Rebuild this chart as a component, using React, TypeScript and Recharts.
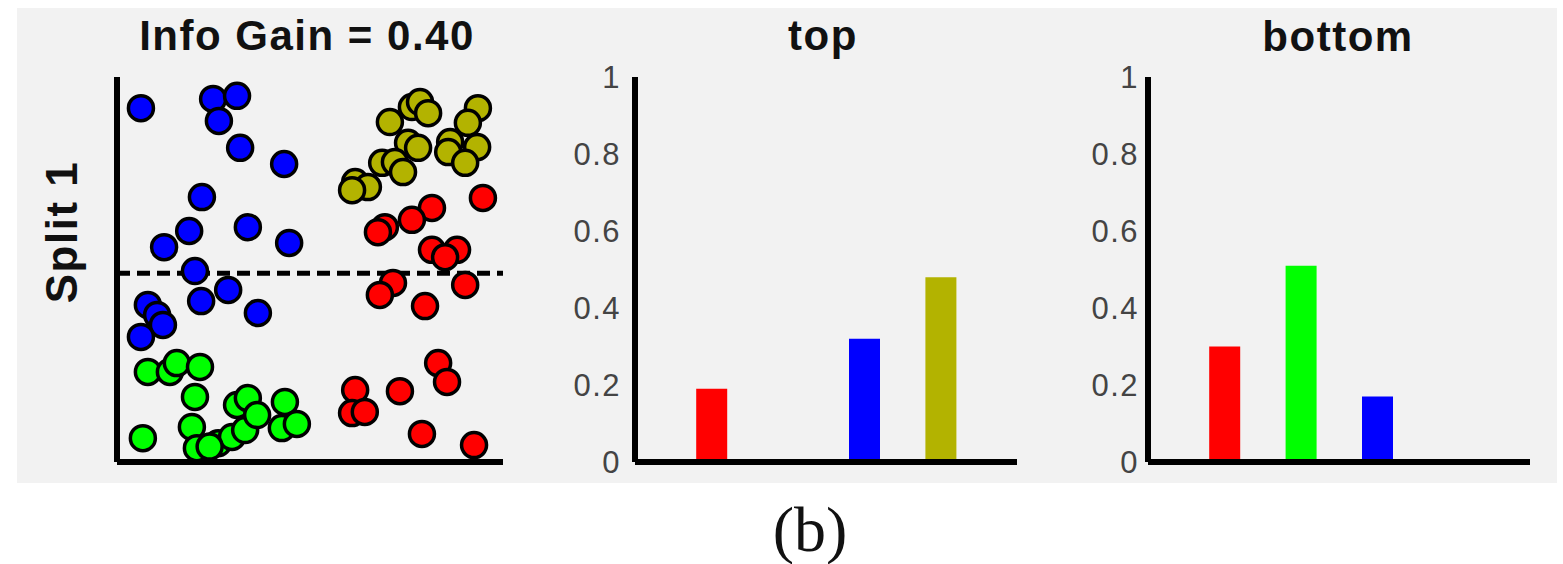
import React from "react";
import { ScatterChart, Scatter, XAxis, YAxis, ReferenceLine, BarChart, Bar, Cell } from "recharts";

// scatter points per class (plot units 0..1)
const bluePts = [
  { x: 0.062, y: 0.919 }, { x: 0.249, y: 0.943 }, { x: 0.311, y: 0.951 }, { x: 0.264, y: 0.886 },
  { x: 0.319, y: 0.816 }, { x: 0.433, y: 0.774 }, { x: 0.22, y: 0.688 }, { x: 0.187, y: 0.6 },
  { x: 0.122, y: 0.558 }, { x: 0.339, y: 0.61 }, { x: 0.446, y: 0.569 }, { x: 0.202, y: 0.496 },
  { x: 0.288, y: 0.447 }, { x: 0.218, y: 0.418 }, { x: 0.365, y: 0.387 }, { x: 0.08, y: 0.408 },
  { x: 0.104, y: 0.382 }, { x: 0.119, y: 0.356 }, { x: 0.062, y: 0.325 },
];

const greenPts = [
  { x: 0.08, y: 0.234 }, { x: 0.137, y: 0.234 }, { x: 0.155, y: 0.257 }, { x: 0.215, y: 0.247 },
  { x: 0.202, y: 0.169 }, { x: 0.067, y: 0.062 }, { x: 0.194, y: 0.091 }, { x: 0.207, y: 0.036 },
  { x: 0.262, y: 0.049 }, { x: 0.298, y: 0.065 }, { x: 0.332, y: 0.083 }, { x: 0.311, y: 0.148 },
  { x: 0.339, y: 0.166 }, { x: 0.363, y: 0.122 }, { x: 0.435, y: 0.156 }, { x: 0.427, y: 0.088 },
  { x: 0.466, y: 0.099 }, { x: 0.24, y: 0.04 },
];

const yellowPts = [
  { x: 0.707, y: 0.883 }, { x: 0.764, y: 0.922 }, { x: 0.785, y: 0.935 }, { x: 0.806, y: 0.906 },
  { x: 0.935, y: 0.919 }, { x: 0.909, y: 0.881 }, { x: 0.933, y: 0.818 }, { x: 0.863, y: 0.831 },
  { x: 0.858, y: 0.805 }, { x: 0.902, y: 0.777 }, { x: 0.754, y: 0.829 }, { x: 0.78, y: 0.816 },
  { x: 0.687, y: 0.777 }, { x: 0.72, y: 0.779 }, { x: 0.741, y: 0.753 }, { x: 0.617, y: 0.727 },
  { x: 0.65, y: 0.714 }, { x: 0.609, y: 0.706 },
];

const redPts = [
  { x: 0.948, y: 0.686 }, { x: 0.816, y: 0.66 }, { x: 0.764, y: 0.629 }, { x: 0.694, y: 0.61 },
  { x: 0.676, y: 0.597 }, { x: 0.816, y: 0.551 }, { x: 0.881, y: 0.551 }, { x: 0.85, y: 0.532 },
  { x: 0.715, y: 0.465 }, { x: 0.681, y: 0.434 }, { x: 0.902, y: 0.46 }, { x: 0.798, y: 0.405 },
  { x: 0.832, y: 0.257 }, { x: 0.855, y: 0.208 }, { x: 0.617, y: 0.187 }, { x: 0.733, y: 0.184 },
  { x: 0.609, y: 0.127 }, { x: 0.642, y: 0.13 }, { x: 0.79, y: 0.073 }, { x: 0.925, y: 0.044 },
];

const splitY = 0.49;

// class histograms for each side of the split
const classColors = ["#ff0000", "#00ff00", "#0000ff", "#b3b300"];
const classPos = [1, 2, 3, 4];
const topValues = [0.19, 0, 0.32, 0.48];
const bottomValues = [0.3, 0.51, 0.17, 0];
const yTicks = [0, 0.2, 0.4, 0.6, 0.8, 1];

const topData = classPos.map((pos, i) => ({ pos, value: topValues[i] }));
const bottomData = classPos.map((pos, i) => ({ pos, value: bottomValues[i] }));

const FONT = "'Liberation Sans', Arial, sans-serif";
const AXIS = { stroke: "#000", strokeWidth: 6 };

const dot = (fill: string) => (p: any) => (
  <circle cx={p.cx} cy={p.cy} r={12.5} fill={fill} stroke="#000" strokeWidth={3.5} />
);

function Histogram({ data, width, yWidth, right, tickMargin }: any) {
  return (
    <BarChart width={width} height={490} data={data} margin={{ top: 77, right, bottom: 26, left: 0 }}>
      <XAxis type="number" dataKey="pos" domain={[0, 5]} height={2} tick={false} tickLine={false} axisLine={AXIS} />
      <YAxis
        type="number"
        domain={[0, 1]}
        ticks={yTicks}
        interval={0}
        width={yWidth}
        tickSize={0}
        tickMargin={tickMargin}
        tickLine={false}
        axisLine={AXIS}
        tick={{ fill: "#444", fontSize: 31, fontFamily: FONT, letterSpacing: 1.5 }}
      />
      <Bar dataKey="value" barSize={31} isAnimationActive={false}>
        {data.map((_: any, i: number) => (
          <Cell key={i} fill={classColors[i]} />
        ))}
      </Bar>
    </BarChart>
  );
}

export default function App() {
  return (
    <div style={{ position: "absolute", left: 0, top: 0, width: 1563, height: 564, background: "#fff", fontFamily: FONT }}>
      <div style={{ position: "absolute", left: 17, top: 8, width: 1540, height: 475, background: "#f2f2f2" }} />

      <div style={{ position: "absolute", left: 0, top: 0 }}>
        <ScatterChart width={520} height={490} margin={{ top: 77, right: 17, bottom: 26, left: 115 }}>
          <XAxis type="number" dataKey="x" domain={[0, 1]} height={2} tick={false} tickLine={false} axisLine={AXIS} />
          <YAxis
            type="number"
            dataKey="y"
            domain={[0, 1]}
            width={2}
            ticks={[0.2, 0.4, 0.6, 0.8]}
            tick={false}
            tickLine={false}
            axisLine={AXIS}
          />
          <ReferenceLine y={splitY} stroke="#000" strokeWidth={5} strokeDasharray="13 7" />
          <Scatter data={bluePts} shape={dot("#0000ff")} isAnimationActive={false} />
          <Scatter data={greenPts} shape={dot("#00ff00")} isAnimationActive={false} />
          <Scatter data={yellowPts} shape={dot("#b3b300")} isAnimationActive={false} />
          <Scatter data={redPts} shape={dot("#ff0000")} isAnimationActive={false} />
        </ScatterChart>
      </div>

      <div style={{ position: "absolute", left: 520, top: 0 }}>
        <Histogram data={topData} width={520} yWidth={115} right={23} tickMargin={14} />
      </div>
      <div style={{ position: "absolute", left: 1040, top: 0 }}>
        <Histogram data={bottomData} width={523} yWidth={108} right={33} tickMargin={9} />
      </div>

      <svg width={1563} height={564} style={{ position: "absolute", left: 0, top: 0, pointerEvents: "none" }}>
        <g fontFamily={FONT} fill="#111" fontWeight="bold" fontSize={42} letterSpacing={1.5} textAnchor="middle">
          <text x={307} y={50}>Info Gain = 0.40</text>
          <text x={823} y={50}>top</text>
          <text x={1338} y={51}>bottom</text>
        </g>
        <text
          x={77}
          y={232}
          transform="rotate(-90, 77, 232)"
          textAnchor="middle"
          fontFamily={FONT}
          fontWeight="bold"
          fontSize={44}
          letterSpacing={1.5}
          fill="#111"
        >
          Split 1
        </text>
        <text x={810} y={551} textAnchor="middle" fontFamily="'Liberation Serif', 'Times New Roman', serif" fontSize={64} fill="#111">
          (b)
        </text>
      </svg>
    </div>
  );
}
